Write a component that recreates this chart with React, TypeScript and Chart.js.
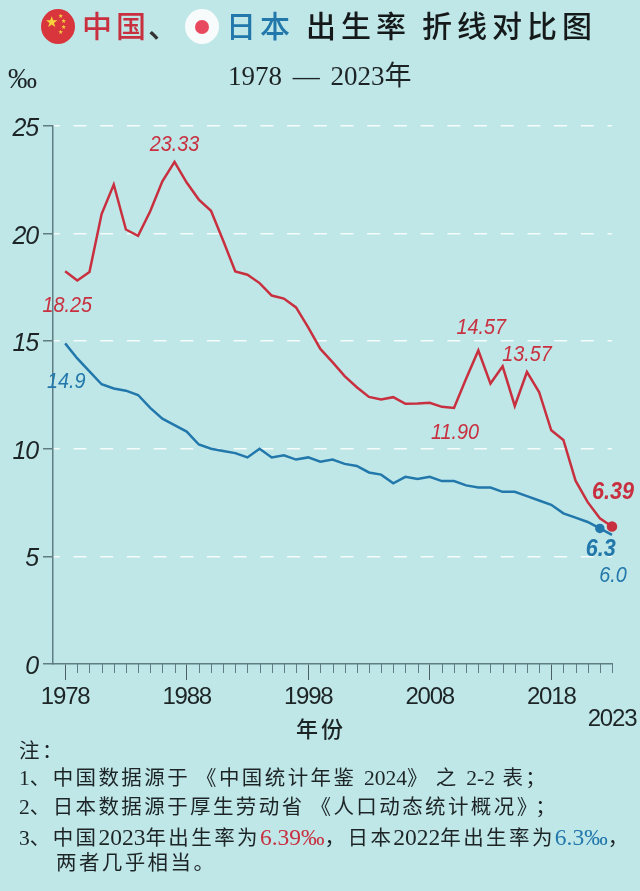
import React, { useEffect, useRef } from "react";
import { Chart, registerables } from "chart.js";

Chart.register(...registerables);

const years = [1978,1979,1980,1981,1982,1983,1984,1985,1986,1987,1988,1989,1990,1991,1992,1993,1994,1995,1996,1997,1998,1999,2000,2001,2002,2003,2004,2005,2006,2007,2008,2009,2010,2011,2012,2013,2014,2015,2016,2017,2018,2019,2020,2021,2022,2023];
const chinaRates = [18.25,17.82,18.21,20.91,22.28,20.19,19.9,21.04,22.43,23.33,22.37,21.58,21.06,19.68,18.24,18.09,17.7,17.12,16.98,16.57,15.64,14.64,14.03,13.38,12.86,12.41,12.29,12.4,12.09,12.1,12.14,11.95,11.9,13.27,14.57,13.03,13.83,11.99,13.57,12.64,10.86,10.41,8.52,7.52,6.77,6.39];
const japanRates = [14.9,14.2,13.6,13.0,12.8,12.7,12.5,11.9,11.4,11.1,10.8,10.2,10.0,9.9,9.8,9.6,10.0,9.6,9.7,9.5,9.6,9.4,9.5,9.3,9.2,8.9,8.8,8.4,8.7,8.6,8.7,8.5,8.5,8.3,8.2,8.2,8.0,8.0,7.8,7.6,7.4,7.0,6.8,6.6,6.3,6.0];
const labelledYears = [1978,1988,1998,2008,2018,2023];
const yTicks = [0,5,10,15,20,25];

const RED = "#c8303f";
const BLUE = "#2277ab";
const BG = "#bfe7e8";
const INK = "#1d2426";
const SERIF = '"Liberation Serif","Noto Sans CJK SC",serif';
const CJK = '"Noto Sans CJK SC",sans-serif';
const SANS = '"Liberation Sans",sans-serif';

const callouts = [
  { text: "23.33", year: 1987, value: 23.33, dx: 0, dy: -17, color: RED, bold: false },
  { text: "18.25", year: 1978, value: 18.25, dx: 2, dy: 35, color: RED, bold: false },
  { text: "14.9", year: 1978, value: 14.9, dx: 1, dy: 39, color: BLUE, bold: false },
  { text: "14.57", year: 2012, value: 14.57, dx: 3, dy: -23, color: RED, bold: false },
  { text: "13.57", year: 2016, value: 13.57, dx: 0, dy: -17, color: RED, bold: false },
  { text: "11.90", year: 2010, value: 11.9, dx: 1, dy: 25, color: RED, bold: false },
  { text: "6.39", year: 2023, value: 6.39, dx: 1, dy: -34, color: RED, bold: true },
  { text: "6.3", year: 2022, value: 6.3, dx: 1, dy: 21, color: BLUE, bold: true },
  { text: "6.0", year: 2023, value: 6.0, dx: 1, dy: 41, color: BLUE, bold: false },
];

const overlayPlugin = {
  id: "overlay",
  beforeDraw(chart: any) {
    chart.ctx.letterSpacing = "-1.2px";
  },
  afterDraw(chart: any) {
    const { ctx, scales } = chart;
    const x = scales.x, y = scales.y;
    ctx.save();
    ctx.letterSpacing = "0px";
    ctx.strokeStyle = "#5f7d83";
    ctx.lineWidth = 1;
    years.forEach((yr) => {
      if (labelledYears.includes(yr) && yr !== 2023) return;
      const px = Math.round(x.getPixelForValue(yr)) + 0.5;
      ctx.beginPath();
      ctx.moveTo(px, y.bottom);
      ctx.lineTo(px, y.bottom + 9);
      ctx.stroke();
    });
    ctx.textAlign = "center";
    ctx.textBaseline = "middle";
    callouts.forEach((c) => {
      ctx.save();
      ctx.font = `italic ${c.bold ? "bold 24px" : "22px"} ${SANS}`;
      ctx.fillStyle = c.color;
      ctx.translate(x.getPixelForValue(c.year) + c.dx, y.getPixelForValue(c.value) + c.dy);
      ctx.scale(0.9, 1);
      ctx.fillText(c.text, 0, 0);
      ctx.restore();
    });
    ctx.restore();
  },
};

const abs = (left: number, top: number, extra: React.CSSProperties = {}): React.CSSProperties => ({
  position: "absolute", left, top, whiteSpace: "nowrap", lineHeight: 1, ...extra,
});

const star = (left: number, top: number, size: number) => (
  <span style={abs(left, top, { color: "#f6d43a", fontSize: size, fontFamily: '"DejaVu Sans"' })}>★</span>
);

function Flag({ left, china }: { left: number; china: boolean }) {
  return (
    <div style={abs(left, 9, { width: 34, height: 35, borderRadius: "50%", background: china ? "#d8363c" : "#f8fbfb" })}>
      {china ? (
        <>
          {star(4, 6, 15)}
          {star(17, 4, 6)}
          {star(20, 9, 6)}
          {star(20, 15, 6)}
          {star(17, 20, 6)}
        </>
      ) : (
        <div style={abs(10, 11, { width: 14, height: 14, borderRadius: "50%", background: "#e8495f" })} />
      )}
    </div>
  );
}

const noteStyle: React.CSSProperties = { fontFamily: SERIF, fontSize: 20.5, letterSpacing: 2.4, color: INK };
const Num = ({ children, color, size }: { children: React.ReactNode; color?: string; size?: number }) => (
  <span style={{ letterSpacing: 0, fontSize: size || 21.5, color: color || INK }}>{children}</span>
);
const Open = () => <span style={{ marginLeft: 6 }}>《</span>;
const Close = () => <span style={{ marginRight: 6 }}>》</span>;
const titleStyle: React.CSSProperties = { fontFamily: CJK, fontSize: 30, fontWeight: 500 };

export default function App() {
  const ref = useRef<HTMLCanvasElement | null>(null);
  useEffect(() => {
    if (!ref.current) return;
    const chart = new Chart(ref.current, {
      type: "line",
      data: {
        labels: years,
        datasets: [
          {
            label: "日本",
            data: years.map((yr, i) => ({ x: yr, y: japanRates[i] })),
            borderColor: BLUE, backgroundColor: BLUE, borderWidth: 2.5, tension: 0, clip: false,
            pointRadius: (c: any) => (c.dataIndex === years.length - 2 ? 3.5 : 0),
          },
          {
            label: "中国",
            data: years.map((yr, i) => ({ x: yr, y: chinaRates[i] })),
            borderColor: RED, backgroundColor: RED, borderWidth: 2.5, tension: 0, clip: false,
            pointRadius: (c: any) => (c.dataIndex === years.length - 1 ? 4 : 0),
          },
        ],
      } as any,
      options: {
        responsive: false,
        animation: false,
        layout: { padding: { left: 0, top: 126, right: 28, bottom: 147 } },
        plugins: { legend: { display: false }, title: { display: false }, tooltip: { enabled: false } },
        scales: {
          x: {
            type: "linear", min: 1977, max: 2023,
            afterFit: (s: any) => { s.height = 80; s.paddingLeft = 0; s.paddingRight = 0; },
            afterBuildTicks: (s: any) => { s.ticks = labelledYears.map((value) => ({ value })); },
            border: { color: "#5f7d83", width: 1.5 },
            grid: {
              drawOnChartArea: false, tickLength: 16,
              tickColor: (c: any) => (c.tick && c.tick.value === 2023 ? "rgba(0,0,0,0)" : "#4b6064"),
            },
            ticks: {
              autoSkip: false, maxRotation: 0, minRotation: 0, padding: 6, color: INK,
              font: { family: SANS, size: 24, lineHeight: 0.92 },
              callback: (v: any) => (v === 2023 ? ["", "2023"] : String(v)),
            },
          },
          y: {
            min: 0, max: 25,
            afterFit: (s: any) => { s.width = 53; s.paddingTop = 0; s.paddingBottom = 0; },
            afterBuildTicks: (s: any) => { s.ticks = yTicks.map((value) => ({ value })); },
            border: { color: "#5f7d83", width: 1.5, dash: [13, 13.7], dashOffset: 6.7 },
            grid: {
              color: (c: any) => (c.tick && c.tick.value === 0 ? "rgba(0,0,0,0)" : "rgba(255,255,255,0.85)"),
              lineWidth: 1.5,
              drawTicks: true, tickLength: 10, tickColor: "#5f7d83", tickBorderDash: [],
            },
            ticks: {
              padding: 5, color: INK, labelOffset: 3,
              font: { family: SANS, size: 25, style: "italic" },
            },
          },
        },
      } as any,
      plugins: [overlayPlugin],
    } as any);
    return () => chart.destroy();
  }, []);

  return (
    <div style={{ position: "absolute", left: 0, top: 0, width: 640, height: 891, background: BG, overflow: "hidden" }}>
      <canvas ref={ref} width={640} height={891} style={{ position: "absolute", left: 0, top: 0, display: "block" }} />
      <Flag left={41} china />
      <Flag left={185} china={false} />
      <span style={abs(82, 9, { ...titleStyle, letterSpacing: 4, color: RED })}>中国</span>
      <span style={abs(148, 9, { ...titleStyle, color: "#333" })}>、</span>
      <span style={abs(226, 9, { ...titleStyle, letterSpacing: 4, color: BLUE })}>日本</span>
      <span style={abs(306, 9, { ...titleStyle, letterSpacing: 5, color: "#15191a" })}>出生率</span>
      <span style={abs(422, 9, { ...titleStyle, letterSpacing: 5, color: "#15191a" })}>折线对比图</span>
      <span style={abs(228, 63, { fontFamily: SERIF, fontSize: 27, wordSpacing: 4, color: INK })}>1978 — 2023年</span>
      <span style={abs(8, 64, { fontFamily: SERIF, fontSize: 29, color: INK })}>‰</span>
      <span style={abs(296, 716, { fontFamily: CJK, fontSize: 22, letterSpacing: 3, fontWeight: 500, color: INK })}>年份</span>
      <span style={abs(19, 741, noteStyle)}>注：</span>
      <span style={abs(19, 768, noteStyle)}>
        <Num>1</Num>、中国数据源于<Open />中国统计年鉴 <Num>2024</Num><Close />之 <Num>2-2</Num> 表；
      </span>
      <span style={abs(19, 797, noteStyle)}>
        <Num>2</Num>、日本数据源于厚生劳动省<Open />人口动态统计概况<Close />；
      </span>
      <span style={abs(19, 826, noteStyle)}>
        <Num>3</Num>、中国<Num size={23.5}>2023</Num>年出生率为<Num size={23.5} color={RED}>6.39‰</Num>，日本<Num size={23.5}>2022</Num>年出生率为<Num size={23.5} color={BLUE}>6.3‰</Num>，
      </span>
      <span style={abs(56, 853, noteStyle)}>两者几乎相当。</span>
    </div>
  );
}
